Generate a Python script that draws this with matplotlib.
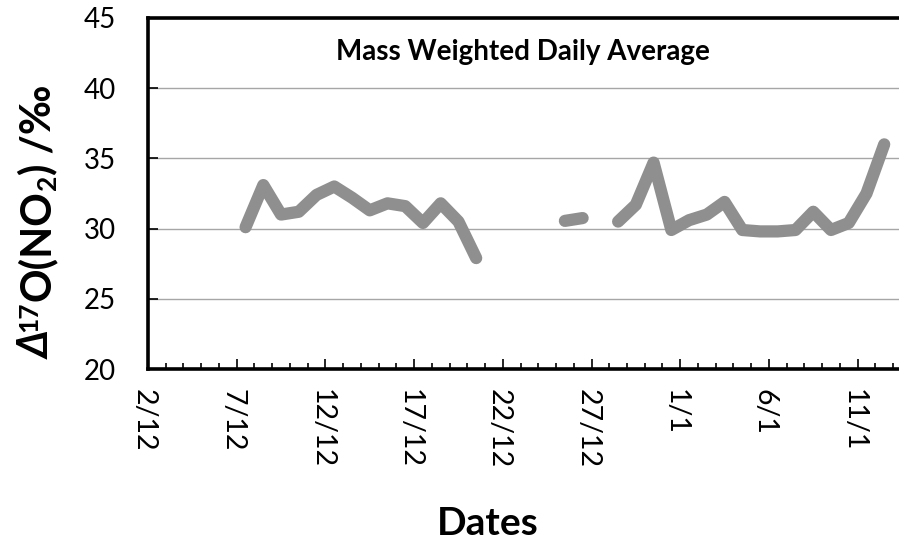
import numpy as np
import matplotlib.pyplot as plt
import matplotlib.transforms as mtransforms

plt.rcParams['font.family'] = ['Lato', 'DejaVu Sans']

# days counted from 2 Dec, one value per day from 7 Dec to 12 Jan (nan = no sample)
day0 = 5
d17O = np.array([30.1, 33.1, 31.0, 31.2, 32.4, 33.0, 32.2, 31.3, 31.8, 31.6,
                 30.4, 31.8, 30.5, 27.9,
                 np.nan, np.nan, np.nan, np.nan,
                 30.55, 30.75,
                 np.nan,
                 30.5, 31.7, 34.7, 29.9, 30.6, 31.0, 31.9, 29.9, 29.8, 29.8,
                 29.9, 31.2, 29.9, 30.4, 32.5, 36.0])
tick_labels = ['2/12', '7/12', '12/12', '17/12', '22/12', '27/12', '1/1', '6/1', '11/1']

days = day0 + np.arange(len(d17O))

fig = plt.figure(figsize=(8.99, 5.41), dpi=100)
ax = fig.add_axes([148/899, 172/541, 44*17.74/899, 351/541])

ax.plot(days + 0.5, d17O, color='#8f8f8f', lw=8.8, solid_capstyle='round',
        solid_joinstyle='round', zorder=3)

ax.set_xlim(0, 44)
ax.set_ylim(20, 45)
ax.set_yticks(np.arange(20, 46, 5))
ax.set_xticks(np.arange(0, 5*len(tick_labels), 5))
ax.set_xticks(np.arange(0, 44), minor=True)
ax.set_xticklabels(tick_labels, rotation=270, fontsize=20.5)
ax.tick_params(axis='y', labelsize=20, direction='in', length=7, width=1.2, pad=23)
ax.tick_params(axis='x', which='major', direction='in', length=7, width=1.2, pad=14.5)
ax.tick_params(axis='x', which='minor', direction='in', length=4, width=1.2)
shift = mtransforms.ScaledTranslation(-4/100, 0, fig.dpi_scale_trans)
for lab in ax.get_xticklabels():
    lab.set_transform(lab.get_transform() + shift)
ax.yaxis.grid(True, color='#a6a6a6', lw=1.0)
ax.set_axisbelow(True)

for s in ['left', 'bottom', 'top']:
    ax.spines[s].set_linewidth(2.6)
ax.spines['right'].set_visible(False)

ax.text(0.480, 0.903, 'Mass Weighted Daily Average', transform=ax.transAxes,
        ha='center', va='center', fontsize=20, fontweight='bold')

# y label built piece by piece (bold, italic delta, super/subscript)
r = fig.canvas.get_renderer()
px, py = 50, 359
pieces = [('Δ', 30, 0, 'italic'), ('17', 19, -13, 'normal'), ('O(NO', 30, 0, 'normal'),
          ('2', 19, 6, 'normal'), (') /‰', 30, 0, 'normal')]
for s, size, dx, style in pieces:
    t = fig.text((px + dx)/899, 1 - py/541, s, rotation=90, rotation_mode='anchor',
                 ha='left', va='baseline', fontsize=size, fontweight='bold', style=style)
    py -= t.get_window_extent(r).height

fig.text(488/899, 1 - 535/541, 'Dates', ha='center', va='baseline', fontsize=28,
         fontweight='bold')

fig.savefig('out.png', dpi=100)
